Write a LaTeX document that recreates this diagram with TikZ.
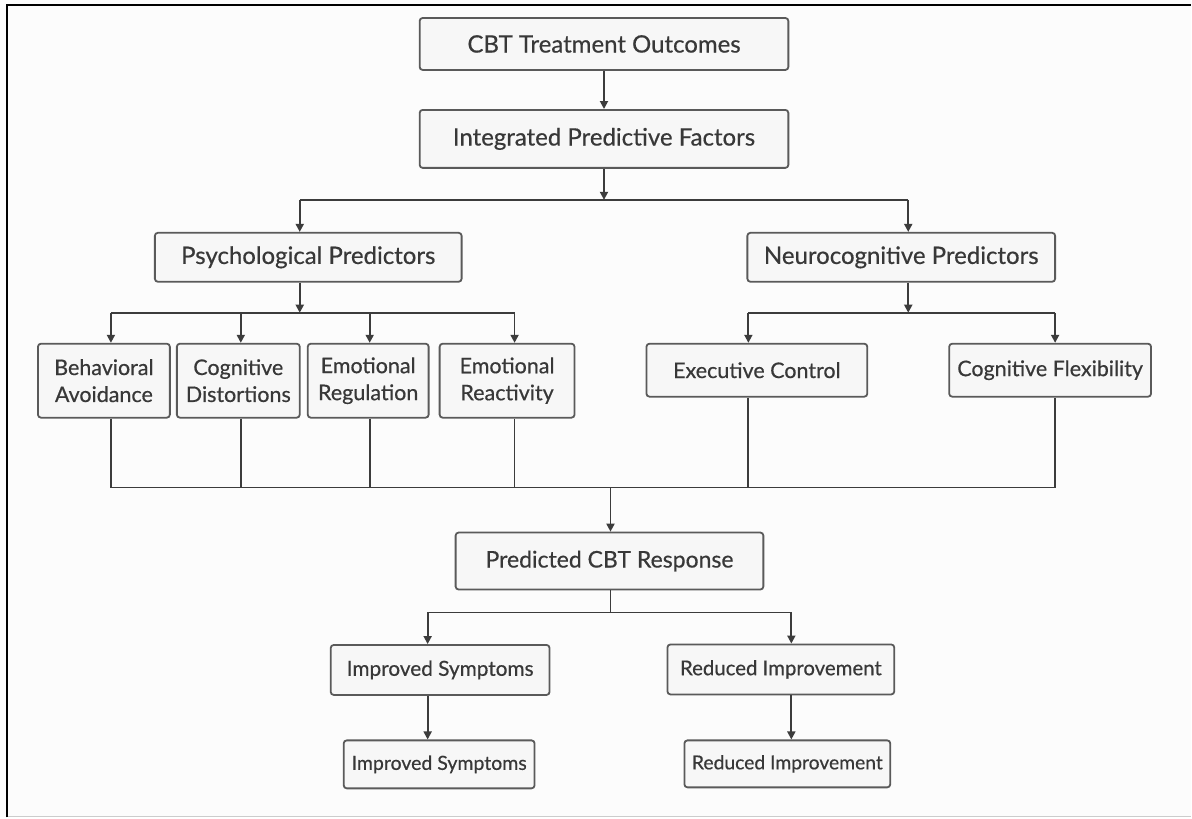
\documentclass[tikz,border=0pt]{standalone}
\usepackage{fontspec}
\setmainfont{Lato}[FakeBold=0.5]
\usetikzlibrary{arrows.meta}
\definecolor{edge}{HTML}{5A5A5A}
\definecolor{wirecol}{HTML}{3C3C3C}
\definecolor{boxfill}{HTML}{F7F7F7}
\definecolor{paper}{HTML}{FCFCFC}
\definecolor{txt}{HTML}{383838}
\newcommand\fs[2]{\fontsize{#1}{#2}\selectfont}
\begin{document}
\begin{tikzpicture}[x=1pt,y=-1pt,
  box/.style={draw=edge, line width=1.8pt, rounded corners=3pt, fill=boxfill,
    text=txt, align=center, inner sep=0pt},
  wire/.style={draw=wirecol, line width=1.8pt},
  arr/.style={wire, -{Triangle[length=8pt,width=8pt]}}]
% page and frame
\fill[paper] (0,0) rectangle (1192,818);
\draw[black, line width=2pt] (7.5,818) -- (7.5,5) -- (1192,5);
\draw[black!20, line width=1.2pt] (8,817) -- (1192,817);

% boxes
\node[box,font=\fs{24}{28},minimum width=369pt,minimum height=52pt] (cbt) at (604.5,44) {CBT Treatment Outcomes};
\node[box,font=\fs{24}{28},minimum width=369pt,minimum height=58pt] (ipf) at (604.5,139) {Integrated Predictive Factors};
\node[box,font=\fs{24}{28},minimum width=307pt,minimum height=49pt] (psy) at (308.5,257.5) {Psychological Predictors};
\node[box,font=\fs{24}{28},minimum width=308pt,minimum height=49pt] (neu) at (902,257.5) {Neurocognitive Predictors};

\node[box,font=\fs{21.5}{27},minimum width=132pt,minimum height=74pt] (beh) at (104,381) {Behavioral\\Avoidance};
\node[box,font=\fs{21.5}{27},minimum width=123pt,minimum height=74pt] (cog) at (238.5,381) {Cognitive\\Distortions};
\node[box,font=\fs{21.5}{27},minimum width=121pt,minimum height=74pt] (emr) at (368.5,381) {Emotional\\Regulation};
\node[box,font=\fs{21.5}{27},minimum width=135pt,minimum height=74pt] (emx) at (507.5,381) {Emotional\\Reactivity};
\node[box,font=\fs{21.5}{27},minimum width=221pt,minimum height=53pt] (exe) at (757.5,370.5) {Executive Control};
\node[box,font=\fs{21.5}{27},minimum width=202pt,minimum height=53pt] (flx) at (1051,370.5) {Cognitive Flexibility};

\node[box,font=\fs{23}{28},minimum width=308pt,minimum height=57pt] (pred) at (610,561.5) {Predicted CBT Response};
\node[box,font=\fs{20.8}{24},minimum width=219pt,minimum height=50pt] (imp1) at (440.5,670.5) {Improved Symptoms};
\node[box,font=\fs{20.4}{24},minimum width=227pt,minimum height=50pt] (red1) at (781.5,670) {Reduced Improvement};
\node[box,font=\fs{19.5}{24},minimum width=191pt,minimum height=48pt] (imp2) at (439.5,765) {Improved Symptoms};
\node[box,font=\fs{19.3}{24},minimum width=206pt,minimum height=47pt] (red2) at (788,764.5) {Reduced Improvement};

% junctions and connector columns
\coordinate (j1) at (604.5,200);
\coordinate (j2) at (300,313);
\coordinate (j3) at (909,313);
\coordinate (j4) at (611,488);
\coordinate (j5) at (611,613);
\coordinate (cb) at (111,0);
\coordinate (cc) at (241,0);
\coordinate (ce) at (370,0);
\coordinate (cr) at (515,0);
\coordinate (cx) at (749,0);
\coordinate (cf) at (1056,0);
\coordinate (ci) at (428,0);
\coordinate (cd) at (792,0);

% top chain
\draw[arr] (cbt.south) -- (ipf.north);
\draw[arr] (ipf.south) -- (j1);
\draw[wire] (j2 |- j1) -- (j3 |- j1);
\draw[arr] (j2 |- j1) -- (psy.north -| j2);
\draw[arr] (j3 |- j1) -- (neu.north -| j3);

% psychological branch
\draw[arr] (psy.south -| j2) -- (j2);
\draw[wire] (cb |- j2) -- (cr |- j2);
\draw[arr] (cb |- j2) -- (cb |- beh.north);
\draw[arr] (cc |- j2) -- (cc |- cog.north);
\draw[arr] (ce |- j2) -- (ce |- emr.north);
\draw[arr] (cr |- j2) -- (cr |- emx.north);

% neurocognitive branch
\draw[arr] (neu.south -| j3) -- (j3);
\draw[wire] (cx |- j3) -- (cf |- j3);
\draw[arr] (cx |- j3) -- (cx |- exe.north);
\draw[arr] (cf |- j3) -- (cf |- flx.north);

% merge into the predicted response
\draw[wire] (cb |- beh.south) -- (cb |- j4) -- (cf |- j4) -- (cf |- flx.south);
\draw[wire] (cc |- cog.south) -- (cc |- j4);
\draw[wire] (ce |- emr.south) -- (ce |- j4);
\draw[wire] (cr |- emx.south) -- (cr |- j4);
\draw[wire] (cx |- exe.south) -- (cx |- j4);
\draw[arr] (j4) -- (pred.north -| j4);

% outcomes
\draw[wire] (pred.south -| j5) -- (j5);
\draw[wire] (ci |- j5) -- (cd |- j5);
\draw[arr] (ci |- j5) -- (ci |- imp1.north);
\draw[arr] (cd |- j5) -- (cd |- red1.north);
\draw[arr] (imp1.south -| ci) -- (ci |- imp2.north);
\draw[arr] (red1.south -| cd) -- (cd |- red2.north);
\end{tikzpicture}
\end{document}
